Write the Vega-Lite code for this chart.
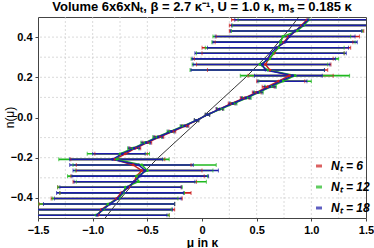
{
  "$schema": "https://vega.github.io/schema/vega-lite/v6.json",
  "width": 328,
  "height": 201,
  "autosize": "none",
  "padding": {"left": 38, "top": 17, "right": 8, "bottom": 30},
  "background": "white",
  "title": {"text": "Volume 6x6xNₜ, β = 2.7 κ⁻¹, U = 1.0 κ, mₛ = 0.185 κ", "font": "Liberation Sans", "fontSize": 13, "fontWeight": "bold", "color": "black", "offset": 3},
  "config": {
    "view": {"stroke": "#444", "strokeWidth": 1},
    "axis": {"labelFont": "Liberation Sans", "labelFontSize": 11, "labelFontWeight": "bold", "labelColor": "black", "titleFont": "Liberation Sans", "titleColor": "black", "grid": false, "domain": false, "tickColor": "#444", "tickSize": 3, "labelOverlap": false, "labelFlush": false},
    "legend": {"title": null, "orient": "none", "legendX": 275, "legendY": 143, "symbolType": "stroke", "symbolSize": 36, "symbolStrokeWidth": 3,
               "labelFont": "Liberation Sans", "labelFontSize": 12, "labelFontWeight": "bold", "labelFontStyle": "italic", "labelColor": "black",
               "rowPadding": 9, "padding": 0, "labelOffset": 6}
  },
  "datasets": {
    "pts": [
      {"s":"Nₜ = 6","n":-0.4861,"m":-0.95,"lo":-1.58,"hi":-0.30},
      {"s":"Nₜ = 6","n":-0.4583,"m":-0.92,"lo":-1.54,"hi":-0.25},
      {"s":"Nₜ = 6","n":-0.4306,"m":-0.85,"lo":-1.49,"hi":-0.25},
      {"s":"Nₜ = 6","n":-0.4028,"m":-0.78,"lo":-1.38,"hi":-0.18},
      {"s":"Nₜ = 6","n":-0.375,"m":-0.74,"lo":-1.30,"hi":-0.10},
      {"s":"Nₜ = 6","n":-0.3472,"m":-0.67,"lo":-1.32,"hi":-0.19},
      {"s":"Nₜ = 6","n":-0.3194,"m":-0.62,"lo":-1.18,"hi":-0.05},
      {"s":"Nₜ = 6","n":-0.2917,"m":-0.60,"lo":-1.20,"hi":0.02},
      {"s":"Nₜ = 6","n":-0.2639,"m":-0.55,"lo":-1.15,"hi":0.00},
      {"s":"Nₜ = 6","n":-0.2361,"m":-0.63,"lo":-1.15,"hi":-0.10},
      {"s":"Nₜ = 6","n":-0.2083,"m":-0.80,"lo":-1.20,"hi":-0.34},
      {"s":"Nₜ = 6","n":-0.1806,"m":-0.70,"lo":-0.98,"hi":-0.50},
      {"s":"Nₜ = 6","n":-0.1528,"m":-0.61,"lo":-0.66,"hi":-0.56},
      {"s":"Nₜ = 6","n":-0.125,"m":-0.50,"lo":-0.54,"hi":-0.46},
      {"s":"Nₜ = 6","n":-0.0972,"m":-0.39,"lo":-0.43,"hi":-0.35},
      {"s":"Nₜ = 6","n":-0.0694,"m":-0.27,"lo":-0.30,"hi":-0.24},
      {"s":"Nₜ = 6","n":-0.0417,"m":-0.15,"lo":-0.18,"hi":-0.12},
      {"s":"Nₜ = 6","n":-0.0139,"m":-0.05,"lo":-0.07,"hi":-0.03},
      {"s":"Nₜ = 6","n":0.0139,"m":0.05,"lo":0.03,"hi":0.07},
      {"s":"Nₜ = 6","n":0.0417,"m":0.16,"lo":0.13,"hi":0.19},
      {"s":"Nₜ = 6","n":0.0694,"m":0.27,"lo":0.24,"hi":0.30},
      {"s":"Nₜ = 6","n":0.0972,"m":0.39,"lo":0.35,"hi":0.43},
      {"s":"Nₜ = 6","n":0.125,"m":0.50,"lo":0.46,"hi":0.54},
      {"s":"Nₜ = 6","n":0.1528,"m":0.60,"lo":0.55,"hi":0.66},
      {"s":"Nₜ = 6","n":0.1806,"m":0.70,"lo":0.50,"hi":0.94},
      {"s":"Nₜ = 6","n":0.2083,"m":0.80,"lo":0.42,"hi":1.20},
      {"s":"Nₜ = 6","n":0.2361,"m":0.62,"lo":0.05,"hi":1.15},
      {"s":"Nₜ = 6","n":0.2639,"m":0.58,"lo":-0.05,"hi":1.18},
      {"s":"Nₜ = 6","n":0.2917,"m":0.61,"lo":-0.07,"hi":1.20},
      {"s":"Nₜ = 6","n":0.3194,"m":0.66,"lo":0.00,"hi":1.30},
      {"s":"Nₜ = 6","n":0.3472,"m":0.69,"lo":0.00,"hi":1.36},
      {"s":"Nₜ = 6","n":0.375,"m":0.75,"lo":0.12,"hi":1.38},
      {"s":"Nₜ = 6","n":0.4028,"m":0.79,"lo":0.13,"hi":1.44},
      {"s":"Nₜ = 6","n":0.4306,"m":0.86,"lo":0.25,"hi":1.48},
      {"s":"Nₜ = 6","n":0.4583,"m":0.91,"lo":0.25,"hi":1.58},
      {"s":"Nₜ = 6","n":0.4861,"m":0.96,"lo":0.27,"hi":1.65},
      {"s":"Nₜ = 12","n":-0.4861,"m":-0.97,"lo":-1.58,"hi":-0.30},
      {"s":"Nₜ = 12","n":-0.4583,"m":-0.90,"lo":-1.52,"hi":-0.28},
      {"s":"Nₜ = 12","n":-0.4306,"m":-0.86,"lo":-1.50,"hi":-0.25},
      {"s":"Nₜ = 12","n":-0.4028,"m":-0.76,"lo":-1.37,"hi":-0.22},
      {"s":"Nₜ = 12","n":-0.375,"m":-0.72,"lo":-1.30,"hi":-0.16},
      {"s":"Nₜ = 12","n":-0.3472,"m":-0.70,"lo":-1.32,"hi":-0.18},
      {"s":"Nₜ = 12","n":-0.3194,"m":-0.58,"lo":-1.15,"hi":0.04},
      {"s":"Nₜ = 12","n":-0.2917,"m":-0.60,"lo":-1.23,"hi":0.05},
      {"s":"Nₜ = 12","n":-0.2639,"m":-0.50,"lo":-1.16,"hi":0.10},
      {"s":"Nₜ = 12","n":-0.2361,"m":-0.55,"lo":-1.18,"hi":0.13},
      {"s":"Nₜ = 12","n":-0.2083,"m":-0.78,"lo":-1.31,"hi":-0.30},
      {"s":"Nₜ = 12","n":-0.1806,"m":-0.75,"lo":-1.05,"hi":-0.48},
      {"s":"Nₜ = 12","n":-0.1528,"m":-0.63,"lo":-0.68,"hi":-0.58},
      {"s":"Nₜ = 12","n":-0.125,"m":-0.52,"lo":-0.56,"hi":-0.48},
      {"s":"Nₜ = 12","n":-0.0972,"m":-0.41,"lo":-0.45,"hi":-0.37},
      {"s":"Nₜ = 12","n":-0.0694,"m":-0.29,"lo":-0.32,"hi":-0.26},
      {"s":"Nₜ = 12","n":-0.0417,"m":-0.17,"lo":-0.20,"hi":-0.14},
      {"s":"Nₜ = 12","n":-0.0139,"m":-0.05,"lo":-0.07,"hi":-0.03},
      {"s":"Nₜ = 12","n":0.0139,"m":0.05,"lo":0.03,"hi":0.07},
      {"s":"Nₜ = 12","n":0.0417,"m":0.17,"lo":0.14,"hi":0.20},
      {"s":"Nₜ = 12","n":0.0694,"m":0.29,"lo":0.26,"hi":0.32},
      {"s":"Nₜ = 12","n":0.0972,"m":0.41,"lo":0.37,"hi":0.45},
      {"s":"Nₜ = 12","n":0.125,"m":0.52,"lo":0.48,"hi":0.56},
      {"s":"Nₜ = 12","n":0.1528,"m":0.63,"lo":0.58,"hi":0.68},
      {"s":"Nₜ = 12","n":0.1806,"m":0.74,"lo":0.52,"hi":1.00},
      {"s":"Nₜ = 12","n":0.2083,"m":0.85,"lo":0.35,"hi":1.35},
      {"s":"Nₜ = 12","n":0.2361,"m":0.60,"lo":-0.11,"hi":1.12},
      {"s":"Nₜ = 12","n":0.2639,"m":0.53,"lo":-0.09,"hi":1.15},
      {"s":"Nₜ = 12","n":0.2917,"m":0.62,"lo":-0.10,"hi":1.25},
      {"s":"Nₜ = 12","n":0.3194,"m":0.65,"lo":-0.05,"hi":1.30},
      {"s":"Nₜ = 12","n":0.3472,"m":0.70,"lo":0.03,"hi":1.30},
      {"s":"Nₜ = 12","n":0.375,"m":0.72,"lo":0.09,"hi":1.40},
      {"s":"Nₜ = 12","n":0.4028,"m":0.74,"lo":0.10,"hi":1.36},
      {"s":"Nₜ = 12","n":0.4306,"m":0.87,"lo":0.27,"hi":1.47},
      {"s":"Nₜ = 12","n":0.4583,"m":0.93,"lo":0.28,"hi":1.55},
      {"s":"Nₜ = 12","n":0.4861,"m":0.98,"lo":0.33,"hi":1.62},
      {"s":"Nₜ = 18","n":-0.4861,"m":-0.96,"lo":-1.60,"hi":-0.32},
      {"s":"Nₜ = 18","n":-0.4583,"m":-0.91,"lo":-1.55,"hi":-0.27},
      {"s":"Nₜ = 18","n":-0.4306,"m":-0.84,"lo":-1.45,"hi":-0.25},
      {"s":"Nₜ = 18","n":-0.4028,"m":-0.77,"lo":-1.35,"hi":-0.19},
      {"s":"Nₜ = 18","n":-0.375,"m":-0.73,"lo":-1.33,"hi":-0.17},
      {"s":"Nₜ = 18","n":-0.3472,"m":-0.68,"lo":-1.30,"hi":-0.19},
      {"s":"Nₜ = 18","n":-0.3194,"m":-0.62,"lo":-1.17,"hi":-0.065},
      {"s":"Nₜ = 18","n":-0.2917,"m":-0.57,"lo":-1.19,"hi":0.06},
      {"s":"Nₜ = 18","n":-0.2639,"m":-0.52,"lo":-1.18,"hi":0.15},
      {"s":"Nₜ = 18","n":-0.2361,"m":-0.58,"lo":-1.21,"hi":-0.08},
      {"s":"Nₜ = 18","n":-0.2083,"m":-0.82,"lo":-1.21,"hi":-0.36},
      {"s":"Nₜ = 18","n":-0.1806,"m":-0.73,"lo":-1.00,"hi":-0.52},
      {"s":"Nₜ = 18","n":-0.1528,"m":-0.62,"lo":-0.67,"hi":-0.57},
      {"s":"Nₜ = 18","n":-0.125,"m":-0.51,"lo":-0.55,"hi":-0.47},
      {"s":"Nₜ = 18","n":-0.0972,"m":-0.40,"lo":-0.44,"hi":-0.36},
      {"s":"Nₜ = 18","n":-0.0694,"m":-0.28,"lo":-0.31,"hi":-0.25},
      {"s":"Nₜ = 18","n":-0.0417,"m":-0.16,"lo":-0.19,"hi":-0.13},
      {"s":"Nₜ = 18","n":-0.0139,"m":-0.05,"lo":-0.07,"hi":-0.03},
      {"s":"Nₜ = 18","n":0.0139,"m":0.05,"lo":0.03,"hi":0.07},
      {"s":"Nₜ = 18","n":0.0417,"m":0.16,"lo":0.13,"hi":0.19},
      {"s":"Nₜ = 18","n":0.0694,"m":0.28,"lo":0.25,"hi":0.31},
      {"s":"Nₜ = 18","n":0.0972,"m":0.40,"lo":0.36,"hi":0.44},
      {"s":"Nₜ = 18","n":0.125,"m":0.51,"lo":0.47,"hi":0.55},
      {"s":"Nₜ = 18","n":0.1528,"m":0.62,"lo":0.57,"hi":0.67},
      {"s":"Nₜ = 18","n":0.1806,"m":0.72,"lo":0.51,"hi":0.96},
      {"s":"Nₜ = 18","n":0.2083,"m":0.83,"lo":0.48,"hi":1.10},
      {"s":"Nₜ = 18","n":0.2361,"m":0.58,"lo":-0.10,"hi":1.12},
      {"s":"Nₜ = 18","n":0.2639,"m":0.55,"lo":-0.08,"hi":1.17},
      {"s":"Nₜ = 18","n":0.2917,"m":0.60,"lo":-0.09,"hi":1.22},
      {"s":"Nₜ = 18","n":0.3194,"m":0.63,"lo":-0.065,"hi":1.32},
      {"s":"Nₜ = 18","n":0.3472,"m":0.68,"lo":0.05,"hi":1.34},
      {"s":"Nₜ = 18","n":0.375,"m":0.76,"lo":0.10,"hi":1.42},
      {"s":"Nₜ = 18","n":0.4028,"m":0.80,"lo":0.12,"hi":1.40},
      {"s":"Nₜ = 18","n":0.4306,"m":0.85,"lo":0.26,"hi":1.46},
      {"s":"Nₜ = 18","n":0.4583,"m":0.92,"lo":0.27,"hi":1.57},
      {"s":"Nₜ = 18","n":0.4861,"m":0.97,"lo":0.30,"hi":1.64}
    ],
    "curve": [
      {"m":-0.9,"n":-0.51},{"m":-0.8,"n":-0.44},{"m":-0.7,"n":-0.375},{"m":-0.6,"n":-0.31},{"m":-0.5,"n":-0.255},
      {"m":-0.4,"n":-0.2},{"m":-0.3,"n":-0.15},{"m":-0.2,"n":-0.1},{"m":-0.1,"n":-0.05},{"m":0,"n":0},
      {"m":0.1,"n":0.05},{"m":0.2,"n":0.1},{"m":0.3,"n":0.15},{"m":0.4,"n":0.2},{"m":0.5,"n":0.255},
      {"m":0.6,"n":0.31},{"m":0.7,"n":0.375},{"m":0.8,"n":0.44},{"m":0.9,"n":0.51}
    ],
    "gx": [{"v":-1.25},{"v":-1},{"v":-0.75},{"v":-0.5},{"v":-0.25},{"v":0.25},{"v":0.5},{"v":0.75},{"v":1},{"v":1.25}],
    "gy": [{"v":-0.4},{"v":-0.3},{"v":-0.2},{"v":-0.1},{"v":0.1},{"v":0.2},{"v":0.3},{"v":0.4}]
  },
  "layer": [
    {
      "data": {"name": "gx"},
      "mark": {"type": "rule", "stroke": "#d0d0d0", "strokeWidth": 0.8, "strokeDash": [2, 2]},
      "encoding": {
        "x": {"field": "v", "type": "quantitative", "scale": {"domain": [-1.5, 1.5], "nice": false, "zero": false},
          "axis": {"title": "μ in κ", "titleFontSize": 12, "titleFontWeight": "bold", "titlePadding": 2, "labelPadding": 3,
                   "values": [-1.5, -1, -0.5, 0, 0.5, 1, 1.5], "labelExpr": "datum.value == 0 ? '0' : format(datum.value, '.1f')"}}
      }
    },
    {
      "data": {"name": "gy"},
      "mark": {"type": "rule", "stroke": "#d0d0d0", "strokeWidth": 0.8, "strokeDash": [2, 2]},
      "encoding": {
        "y": {"field": "v", "type": "quantitative", "scale": {"domain": [-0.5, 0.5], "nice": false, "zero": false},
          "axis": {"title": "n(μ)", "titleFontSize": 12, "titleFontWeight": "normal", "titleX": -29, "titleY": 100, "titleBaseline": "middle", "titleAngle": -90, "labelPadding": 3,
                   "values": [-0.4, -0.2, 0, 0.2, 0.4], "format": ".1f"}}
      }
    },
    {
      "mark": {"type": "rule", "stroke": "black", "strokeWidth": 1},
      "encoding": {"x": {"datum": 0, "type": "quantitative"}}
    },
    {
      "mark": {"type": "rule", "stroke": "black", "strokeWidth": 1},
      "encoding": {"y": {"datum": 0, "type": "quantitative"}}
    },
    {
      "data": {"name": "curve"},
      "mark": {"type": "line", "color": "black", "strokeWidth": 0.8, "clip": true},
      "encoding": {
        "x": {"field": "m", "type": "quantitative"},
        "y": {"field": "n", "type": "quantitative"},
        "order": {"field": "m"}
      }
    },
    {
      "data": {"name": "pts"},
      "mark": {"type": "rule", "strokeWidth": 1.6, "clip": true},
      "encoding": {
        "x": {"field": "lo", "type": "quantitative"},
        "x2": {"field": "hi"},
        "y": {"field": "n", "type": "quantitative"},
        "color": {"field": "s", "type": "nominal",
          "scale": {"domain": ["Nₜ = 6", "Nₜ = 12", "Nₜ = 18"], "range": ["#cc1f1f", "#1fb81f", "#1c1ca8"]}}
      }
    },
    {
      "data": {"name": "pts"},
      "mark": {"type": "tick", "orient": "vertical", "size": 4, "thickness": 1, "clip": true},
      "encoding": {
        "x": {"field": "lo", "type": "quantitative"},
        "y": {"field": "n", "type": "quantitative"},
        "color": {"field": "s", "type": "nominal"}
      }
    },
    {
      "data": {"name": "pts"},
      "mark": {"type": "tick", "orient": "vertical", "size": 4, "thickness": 1, "clip": true},
      "encoding": {
        "x": {"field": "hi", "type": "quantitative"},
        "y": {"field": "n", "type": "quantitative"},
        "color": {"field": "s", "type": "nominal"}
      }
    },
    {
      "data": {"name": "pts"},
      "mark": {"type": "line", "strokeWidth": 1.5, "clip": true},
      "encoding": {
        "x": {"field": "m", "type": "quantitative"},
        "y": {"field": "n", "type": "quantitative"},
        "order": {"field": "n"},
        "color": {"field": "s", "type": "nominal"}
      }
    },
    {
      "data": {"name": "pts"},
      "mark": {"type": "circle", "size": 8, "opacity": 1, "clip": true},
      "encoding": {
        "x": {"field": "m", "type": "quantitative"},
        "y": {"field": "n", "type": "quantitative"},
        "color": {"field": "s", "type": "nominal"}
      }
    }
  ]
}
